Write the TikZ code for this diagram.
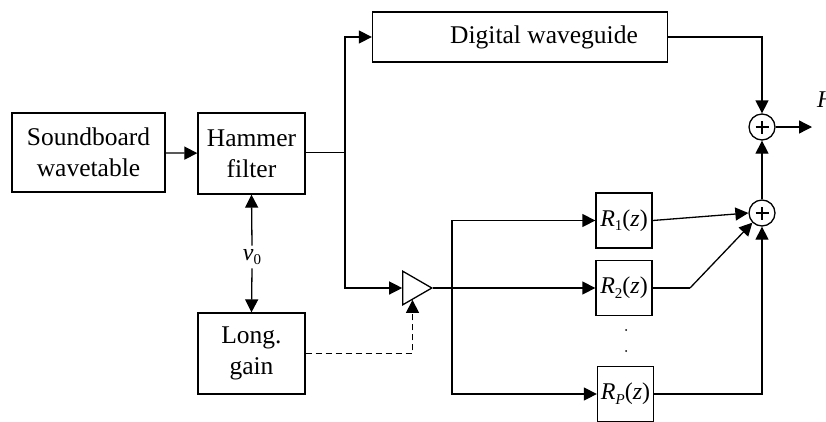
\documentclass[tikz,border=0pt]{standalone}
\usepackage{fontspec}
\setmainfont{Liberation Serif}
\usetikzlibrary{arrows.meta,shapes.geometric}
\newcommand{\rz}[1]{\textit{R}\raisebox{-0.4ex}{\fontsize{15}{15}\selectfont #1}(\textit{z})}
\begin{document}
\begin{tikzpicture}[x=1pt,y=-1pt,
  blk/.style={draw,line width=1.3pt,minimum width=#1,inner sep=0pt,font=\fontsize{25.5}{31}\selectfont,align=center},
  blk/.default=107pt,
  rbox/.style={draw,line width=1.3pt,minimum width=56pt,minimum height=55pt,inner sep=0pt,font=\fontsize{24}{26}\selectfont},
  sum/.style={draw,circle,line width=1.3pt,minimum size=26pt,inner sep=0pt},
  wire/.style={line width=1.3pt},
  flow/.style={wire,-{Triangle[length=13pt,width=13pt]}},
  lbl/.style={font=\fontsize{24}{26}\selectfont}]
\useasboundingbox (0,0) rectangle (826,421);

% blocks
\node[blk=153pt,minimum height=79pt] (sb) at (88.5,152.5) {Soundboard\\wavetable};
\node[blk,minimum height=81pt] (hf) at (251.5,153.5) {Hammer\\filter};
\node[blk,minimum height=81pt] (lg) at (251.5,353.5) {Long.\\gain};
\node[blk=295pt,minimum height=50pt] (wg) at (520,37) {};
\node[font=\fontsize{25.5}{31}\selectfont] (wgt) at (544,37) {Digital waveguide};
\node[rbox] (r1) at (624,220.5) {\rz{1}};
\node[rbox] (r2) at (624,288) {\rz{2}};
\node[rbox] (rp) at (625.5,394) {\rz{\textit{P}}};
\node[draw,isosceles triangle,isosceles triangle apex angle=60,minimum height=29pt,inner sep=0pt,line width=1.3pt] (amp) at (412.5,288) {};
\node[sum] (s1) at (762,127) {};
\node[sum] (s2) at (762,213) {};
\foreach \s in {s1,s2}{
  \draw[line width=2.6pt] ([xshift=-6.5pt]\s.center) -- ([xshift=6.5pt]\s.center);
  \draw[line width=2.6pt] ([yshift=-6.5pt]\s.center) -- ([yshift=6.5pt]\s.center);
}
\fill (626,330) circle (1pt) (626,351) circle (1pt);

% junction points
\coordinate (j1) at (345,152.5);
\coordinate (j2) at (452,288);
\coordinate (k2) at (690,288);

% signal paths
\draw[flow] (sb) -- (hf);
\draw[wire] (hf.east |- j1) -- (j1);
\draw[flow] (j1) |- (wg.west);
\draw[flow] (j1) |- (amp.west);
\draw[flow] (amp.east) -- (r2.west);
\draw[flow] (j2) |- (r1.west);
\draw[flow] (j2) |- (rp.west);
\draw[flow] (wg.east) -| (s1.north);
\draw[flow] (s1.east) -- (812,127) coordinate (out);
\draw[flow] (s2.north) -- (s1.south);
\draw[flow] (r1.east) -- (s2.west);
\draw[wire] (r2.east) -- (k2);
\draw[flow] (k2) -- (s2.south west);
\draw[flow] (rp.east) -| (s2.south);

% hammer velocity
\node[lbl] (v0) at (252,257) {\textit{v}\raisebox{-0.4ex}{\fontsize{15}{15}\selectfont 0}};
\draw[flow] (v0.north) -- (hf.south);
\draw[flow] (v0.south) -- (lg.north);

% gain control
\draw[flow,dash pattern=on 6pt off 4pt] (lg.east) -| (amp.south);

% output label
\node[lbl,anchor=west,inner sep=0pt] at (817,100) {\textit{H}};
\end{tikzpicture}
\end{document}
